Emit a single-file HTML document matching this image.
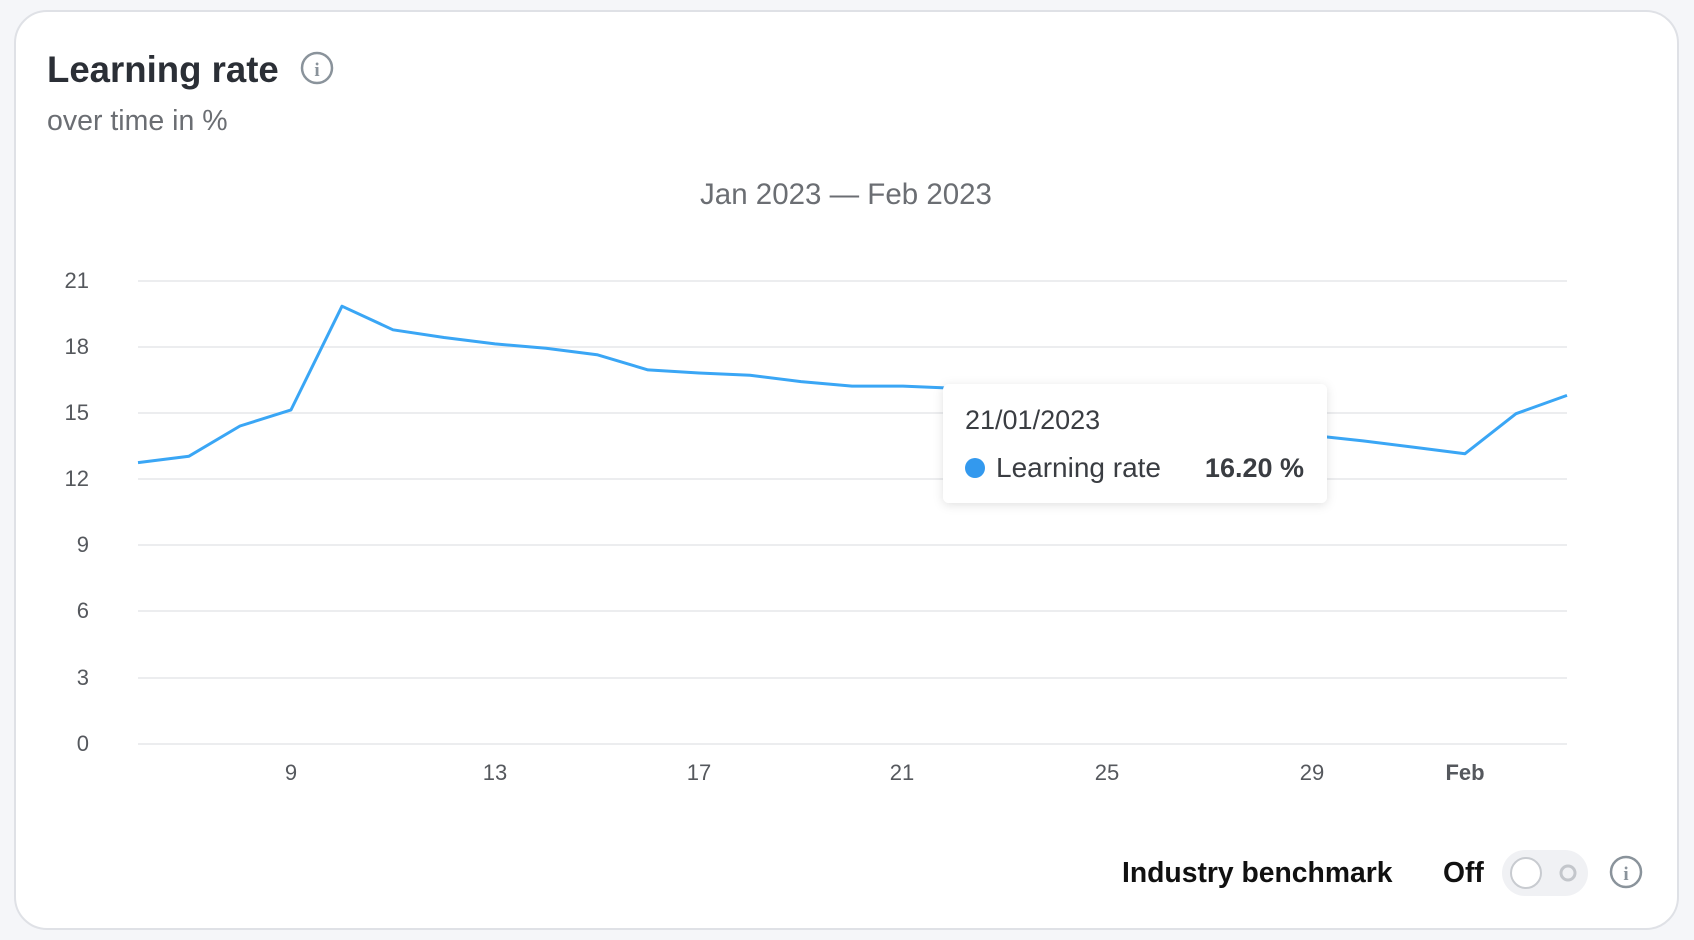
<!DOCTYPE html>
<html><head><meta charset="utf-8"><style>
html,body{margin:0;padding:0;background:#f5f6f9;}
svg{display:block;font-family:"Liberation Sans",Arial,sans-serif;}
</style></head><body>
<svg width="1694" height="940" viewBox="0 0 1694 940">
<defs><filter id="sh" x="-10%" y="-20%" width="120%" height="140%"><feDropShadow dx="0" dy="2" stdDeviation="5" flood-color="#000" flood-opacity="0.12"/></filter></defs>
<rect x="15" y="11" width="1663" height="918" rx="32" fill="#fff" stroke="#dfe1e6" stroke-width="2"/>
<text x="47" y="82" font-size="36.6" font-weight="bold" fill="#2b2f36">Learning rate</text>
<circle cx="317" cy="68" r="15" fill="none" stroke="#8a939b" stroke-width="2.5"/>
<text x="317" y="76" font-size="19" font-weight="bold" fill="#8a939b" text-anchor="middle" font-family="Liberation Serif,serif">i</text>
<text x="47" y="130" font-size="28.5" fill="#6b6e73">over time in %</text>
<text x="846" y="204" font-size="29.5" fill="#6b6e73" text-anchor="middle">Jan 2023 — Feb 2023</text>
<g stroke="#e6e7ea" stroke-width="1.5">
<line x1="138" y1="281" x2="1567" y2="281"/><line x1="138" y1="347" x2="1567" y2="347"/>
<line x1="138" y1="413" x2="1567" y2="413"/><line x1="138" y1="479" x2="1567" y2="479"/>
<line x1="138" y1="545" x2="1567" y2="545"/><line x1="138" y1="611" x2="1567" y2="611"/>
<line x1="138" y1="678" x2="1567" y2="678"/><line x1="138" y1="744" x2="1567" y2="744"/>
</g>
<g font-size="22" fill="#55585d" text-anchor="end">
<text x="89" y="288">21</text><text x="89" y="354">18</text><text x="89" y="420">15</text>
<text x="89" y="486">12</text><text x="89" y="552">9</text><text x="89" y="618">6</text>
<text x="89" y="685">3</text><text x="89" y="751">0</text>
</g>
<g font-size="22" fill="#55585d" text-anchor="middle">
<text x="291" y="780">9</text><text x="495" y="780">13</text><text x="699" y="780">17</text>
<text x="902" y="780">21</text><text x="1107" y="780">25</text><text x="1312" y="780">29</text>
<text x="1465" y="780" font-weight="bold">Feb</text>
</g>
<polyline fill="none" stroke="#3aa6f5" stroke-width="3" stroke-linejoin="round" points="
138,462.6 189,456.2 240,426.0 291,409.9 342,306.2 393,329.8 444,337.5 495,343.9 546,348.3 597,354.7 648,369.9 699,373.0 750,375.2 801,381.6 852,386.1 903,386.1 954,388.3 1005,390.4 1056,397.0 1107,405.8 1158,414.7 1209,423.5 1260,430.0 1312,435.4 1363,440.9 1414,447.3 1465,453.7 1516,413.7 1567,395.4"/>
<rect x="943" y="384" width="384" height="119" rx="6" fill="#fff" filter="url(#sh)"/>
<text x="965" y="429" font-size="27" fill="#3a3d42">21/01/2023</text>
<circle cx="975" cy="468" r="10" fill="#3399ee"/>
<text x="996" y="477" font-size="28" fill="#3a3d42">Learning rate</text>
<text x="1304" y="477" font-size="27" font-weight="bold" fill="#3a3d42" text-anchor="end">16.20 %</text>
<text x="1122" y="882" font-size="28.3" font-weight="bold" fill="#111">Industry benchmark</text>
<text x="1443" y="882" font-size="28.3" font-weight="bold" fill="#111">Off</text>
<rect x="1502" y="850" width="86" height="46" rx="23" fill="#f0f1f4"/>
<circle cx="1526" cy="873" r="15" fill="#fff" stroke="#c8cbd0" stroke-width="2"/>
<circle cx="1568" cy="873" r="7" fill="none" stroke="#c3c6cb" stroke-width="3"/>
<circle cx="1626" cy="872" r="15" fill="none" stroke="#8a939b" stroke-width="2.5"/>
<text x="1626" y="880" font-size="19" font-weight="bold" fill="#8a939b" text-anchor="middle" font-family="Liberation Serif,serif">i</text>
</svg>
</body></html>
